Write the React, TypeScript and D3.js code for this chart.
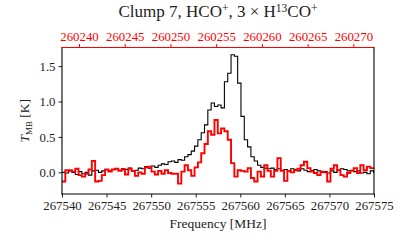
import { useEffect, useRef } from "react";
import * as d3 from "d3";

// HCO+ (black, bottom axis), channel centres start at hcoStartMHz
const hcoStartMHz = 267540.186;
const hcoChanMHz = 0.3718;
const hcoValues = [
  0.0, -0.01, 0.02, 0.0, -0.03, 0.01, -0.02, 0.0, -0.04, 0.02,
  0.03, 0.0, 0.02, 0.04, 0.02, 0.04, 0.05, 0.03, 0.05, 0.04,
  0.06, 0.02, 0.03, 0.06, 0.05, 0.08, 0.06, 0.09, 0.07, 0.1,
  0.12, 0.11, 0.15, 0.16, 0.14, 0.18, 0.17, 0.22, 0.25, 0.3,
  0.37, 0.46, 0.56, 0.67, 0.88, 0.98, 0.93, 0.95, 0.91, 1.28,
  1.4, 1.66, 1.64, 1.26, 0.79, 0.46, 0.36, 0.22, 0.16, 0.1,
  0.07, 0.06, 0.05, 0.06, 0.04, 0.05, 0.03, 0.04, 0.02, 0.05,
  0.04, 0.02, 0.05, 0.03, 0.01, 0.02, 0.04, 0.02, 0.0, 0.01,
  -0.01, 0.02, 0.0, 0.03, 0.05, 0.04, 0.02, 0.03, 0.01, 0.02,
  -0.01, 0.0, -0.02, 0.02, 0.0,
];

// 3 x H13CO+ (red, top axis)
const h13coStartMHz = 260238.32;
const h13coChanMHz = 0.3625;
const h13coValues = [
  -0.13, 0.03, 0.03, 0.01, 0.05, -0.04, -0.06, -0.02, 0.04, 0.16,
  -0.13, -0.12, -0.04, 0.04, 0.01, 0.04, 0.05, 0.02, 0.04, -0.03,
  0.05, 0.02, -0.05, 0.0, -0.02, 0.07, 0.08, 0.01, -0.03, 0.02,
  -0.02, 0.03, -0.01, -0.02, -0.02, -0.16, 0.01, 0.1, 0.03, -0.05,
  0.07, 0.14, 0.27, 0.4, 0.58, 0.53, 0.74, 0.55, 0.62, 0.58,
  0.46, 0.13, -0.06, 0.03, 0.02, 0.01, 0.06, -0.08, -0.13, 0.01,
  -0.06, 0.1, 0.02, -0.06, 0.02, 0.2, 0.02, -0.12, 0.02, 0.0,
  0.03, 0.05, 0.1, 0.15, 0.06, 0.01, -0.01, -0.04, 0.01, 0.0,
  -0.13, 0.05, 0.1, 0.03, -0.04, -0.06, -0.01, 0.02, 0.06, -0.01,
  0.1, 0.03, 0.08, 0.06, 0.06,
];

const bottomTicks = [267540, 267545, 267550, 267555, 267560, 267565, 267570, 267575];
const topTicks = [260240, 260245, 260250, 260255, 260260, 260265, 260270];
const yTicks = [0.0, 0.5, 1.0, 1.5];

const width = 415;
const height = 242;
const margin = { left: 62, top: 47.5, right: 41, bottom: 48 };
const font = "Liberation Serif";

const stepPoints = (start: number, chan: number, values: number[]) => {
  // channel edges: each value covers [centre - chan/2, centre + chan/2]
  const pts: [number, number][] = values.map((v, i) => [start + (i - 0.5) * chan, v]);
  pts.push([start + (values.length - 0.5) * chan, values[values.length - 1]]);
  return pts;
};

const App = () => {
  const svgRef = useRef<SVGSVGElement | null>(null);

  useEffect(() => {
    if (!svgRef.current) return;
    const svg = d3.select(svgRef.current);
    svg.selectAll("*").remove();

    const innerWidth = width - margin.left - margin.right;
    const innerHeight = height - margin.top - margin.bottom;

    const x = d3.scaleLinear().domain([267540, 267575]).range([0, innerWidth]);
    const xTop = d3.scaleLinear().domain([260238.14, 260272.26]).range([0, innerWidth]);
    const y = d3.scaleLinear().domain([-0.306, 1.763]).range([innerHeight, 0]);

    svg
      .append("defs")
      .append("clipPath")
      .attr("id", "plot-clip")
      .append("rect")
      .attr("width", innerWidth)
      .attr("height", innerHeight);

    const g = svg
      .append("g")
      .attr("transform", `translate(${margin.left},${margin.top})`);

    const plot = g.append("g").attr("clip-path", "url(#plot-clip)");

    const blackLine = d3
      .line<[number, number]>()
      .x((d) => x(d[0]))
      .y((d) => y(d[1]))
      .curve(d3.curveStepAfter);
    const redLine = d3
      .line<[number, number]>()
      .x((d) => xTop(d[0]))
      .y((d) => y(d[1]))
      .curve(d3.curveStepAfter);

    plot
      .append("path")
      .attr("d", blackLine(stepPoints(hcoStartMHz, hcoChanMHz, hcoValues)))
      .attr("fill", "none")
      .attr("stroke", "#000")
      .attr("stroke-width", 1.1);

    plot
      .append("path")
      .attr("d", redLine(stepPoints(h13coStartMHz, h13coChanMHz, h13coValues)))
      .attr("fill", "none")
      .attr("stroke", "#ff0000")
      .attr("stroke-width", 1.9);

    const styleAxis = (
      sel: d3.Selection<SVGGElement, unknown, null, undefined>,
      color: string,
    ) => {
      sel.attr("font-family", font).attr("font-size", 12.8);
      sel.select(".domain").remove();
      sel.selectAll(".tick line").attr("stroke", color).attr("stroke-width", 1);
      sel
        .selectAll(".tick text")
        .attr("fill", color)
        .style("font-family", font)
        .style("font-size", "12.8px");
    };

    g.append("g")
      .attr("transform", `translate(0,${innerHeight})`)
      .call(d3.axisBottom(x).tickValues(bottomTicks).tickFormat(d3.format("d")).tickSize(3.5).tickPadding(3))
      .call((s) => styleAxis(s, "#222"));

    g.append("g")
      .call(d3.axisTop(xTop).tickValues(topTicks).tickFormat(d3.format("d")).tickSize(3.5).tickPadding(3))
      .call((s) => styleAxis(s, "#ff0000"));

    g.append("g")
      .call(d3.axisLeft(y).tickValues(yTicks).tickFormat(d3.format(".1f")).tickSize(3.5).tickPadding(3))
      .call((s) => styleAxis(s, "#222"));

    // spines
    const spine = (x1: number, y1: number, x2: number, y2: number, c: string) =>
      g.append("line")
        .attr("x1", x1).attr("y1", y1).attr("x2", x2).attr("y2", y2)
        .attr("stroke", c).attr("stroke-width", 1.1).attr("stroke-linecap", "square");
    spine(0, 0, 0, innerHeight, "#000");
    spine(innerWidth, 0, innerWidth, innerHeight, "#000");
    spine(0, innerHeight, innerWidth, innerHeight, "#000");
    spine(0, 0, innerWidth, 0, "#ff0000");

    // title
    const title = svg
      .append("text")
      .attr("x", margin.left + innerWidth / 2)
      .attr("y", 17)
      .attr("text-anchor", "middle")
      .style("font-family", font)
      .style("font-size", "17px")
      .attr("fill", "#222");
    title.append("tspan").text("Clump 7, HCO");
    title.append("tspan").attr("dy", -5.5).style("font-size", "11.5px").text("+");
    title.append("tspan").attr("dy", 5.5).text(", 3 × H");
    title.append("tspan").attr("dy", -5.5).style("font-size", "11.5px").text("13");
    title.append("tspan").attr("dy", 5.5).text("CO");
    title.append("tspan").attr("dy", -5.5).style("font-size", "11.5px").text("+");

    svg
      .append("text")
      .attr("x", margin.left + innerWidth / 2)
      .attr("y", 228)
      .attr("text-anchor", "middle")
      .style("font-family", font)
      .style("font-size", "13.5px")
      .attr("fill", "#222")
      .text("Frequency [MHz]");

    const yLabel = svg
      .append("text")
      .attr("transform", `translate(29,${margin.top + innerHeight / 2}) rotate(-90)`)
      .attr("text-anchor", "middle")
      .style("font-family", font)
      .style("font-size", "13.5px")
      .attr("fill", "#222");
    yLabel.append("tspan").style("font-style", "italic").text("T");
    yLabel.append("tspan").attr("dy", 3).style("font-size", "9px").text("MB");
    yLabel.append("tspan").attr("dy", -3).text(" [K]");
  }, []);

  return (
    <div style={{ position: "fixed", left: 0, top: 0, background: "#fff" }}>
      <svg ref={svgRef} width={width} height={height} />
    </div>
  );
};

export default App;
